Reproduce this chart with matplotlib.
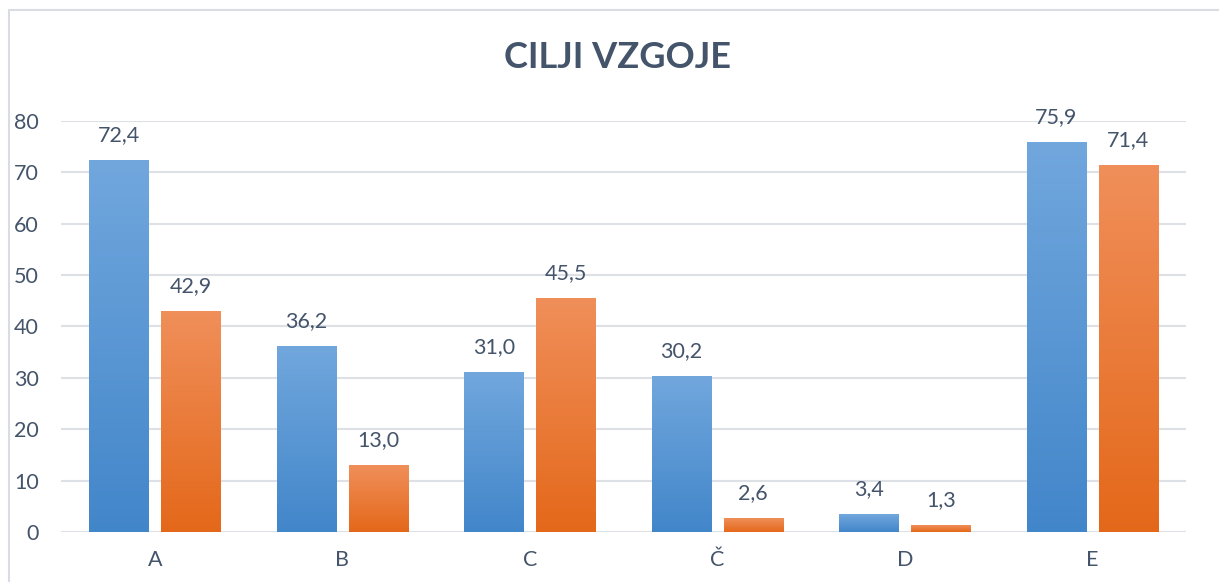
import matplotlib.pyplot as plt
import matplotlib.patches as mpatches
from matplotlib.colors import LinearSegmentedColormap
import numpy as np

plt.rcParams['font.family'] = ['Lato', 'DejaVu Sans']

# chart data
categories = ['A', 'B', 'C', 'Č', 'D', 'E']
series_blue = [72.4, 36.2, 31.0, 30.2, 3.4, 75.9]
series_orange = [42.9, 13.0, 45.5, 2.6, 1.3, 71.4]
value_labels_blue = ['72,4', '36,2', '31,0', '30,2', '3,4', '75,9']
value_labels_orange = ['42,9', '13,0', '45,5', '2,6', '1,3', '71,4']
yticks = [0, 10, 20, 30, 40, 50, 60, 70, 80]

TEXT = '#44546A'
GRID = '#DDE1E6'

blue_cmap = LinearSegmentedColormap.from_list('b', ['#4286CA', '#71A7DD'])
orange_cmap = LinearSegmentedColormap.from_list('o', ['#E4681A', '#F08F5A'])

fig = plt.figure(figsize=(12.19, 5.82), dpi=100)
ax = fig.add_axes([61 / 1219, 1 - 532 / 582, (1186 - 61) / 1219, (532 - 121) / 582])

# outer chart border (right/bottom fall off the image)
border = mpatches.Rectangle((9 / 1219, -0.1), 1.2, 1 - 10 / 582 + 0.1,
                            transform=fig.transFigure, fill=False,
                            edgecolor='#D9DDE3', linewidth=1.5, zorder=0)
fig.patches.append(border)

x = np.arange(len(categories))
width = 0.315
offset = 0.192
grad = np.linspace(0, 1, 256).reshape(-1, 1)


def gradient_bars(xs, vals, cmap):
    for xi, v in zip(xs, vals):
        ax.imshow(grad, cmap=cmap, origin='lower', aspect='auto',
                  extent=(xi - width / 2, xi + width / 2, 0, v), zorder=2)


gradient_bars(x - offset, series_blue, blue_cmap)
gradient_bars(x + offset, series_orange, orange_cmap)

for xi, v, lab in zip(x - offset, series_blue, value_labels_blue):
    ax.text(xi, v + 3.0, lab, ha='center', va='bottom', fontsize=15.5, color=TEXT)
for xi, v, lab in zip(x + offset, series_orange, value_labels_orange):
    ax.text(xi, v + 3.0, lab, ha='center', va='bottom', fontsize=15.5, color=TEXT)

ax.set_xlim(-0.5, len(categories) - 0.5)
ax.set_ylim(0, 80)
ax.set_yticks(yticks)
ax.set_xticks(x)
ax.set_xticklabels(categories)
ax.grid(axis='y', color=GRID, linewidth=1.5, zorder=0)
ax.set_axisbelow(True)
for s in ax.spines.values():
    s.set_visible(False)
ax.tick_params(axis='both', length=0, labelsize=15.5, labelcolor=TEXT)
ax.tick_params(axis='y', pad=16)
ax.tick_params(axis='x', pad=13)

fig.text(618 / 1219, 1 - 57 / 582, 'CILJI VZGOJE', ha='center', va='center',
         fontsize=26, fontweight='bold', color=TEXT)

fig.savefig('out.png', dpi=100)
